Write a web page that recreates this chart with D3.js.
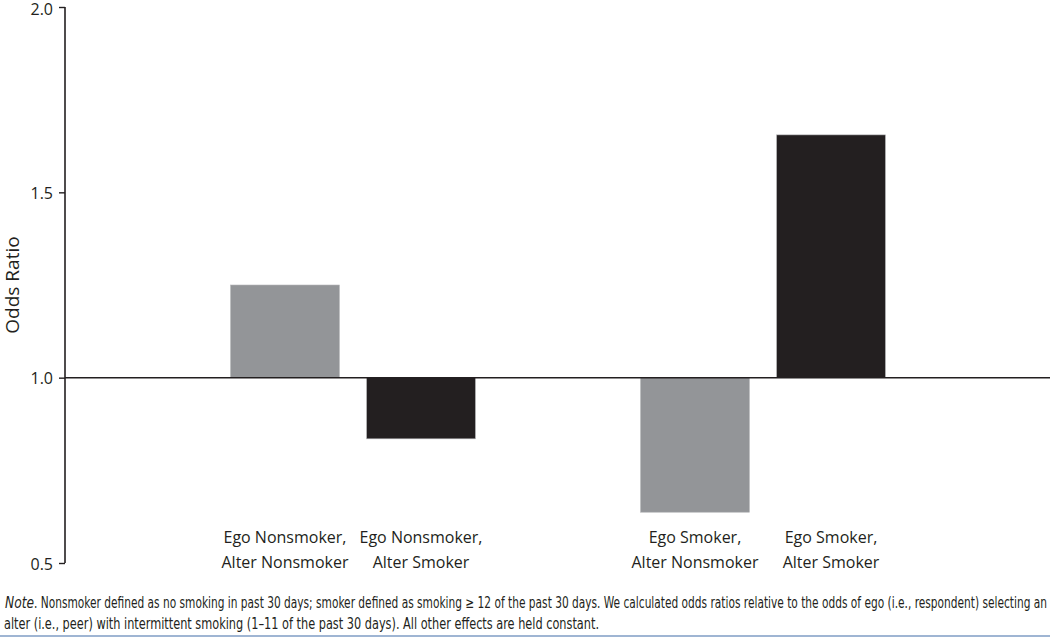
<!DOCTYPE html>
<html>
<head>
<meta charset="utf-8">
<script src="https://cdn.jsdelivr.net/npm/d3@7"></script>
<style>
  body { margin: 0; background: #fff; }
  svg { display: block; }
  .tick text { font-family: "Open Sans", sans-serif; font-size: 16px; fill: #231f20; }
</style>
</head>
<body>
<div id="chart"></div>
<script>
// data
let groups = ["Ego Nonsmoker", "Ego Smoker"];
let alters = ["Alter Nonsmoker", "Alter Smoker"];
let oddsRatios = [
  [1.25, 0.835],   // ego nonsmoker
  [0.637, 1.655]   // ego smoker
];
let barColors = ["#939598", "#231f20"];
let yTicks = [0.5, 1.0, 1.5, 2.0];
let noteLead = "Note";
let noteLines = [
  ". Nonsmoker defined as no smoking in past 30 days; smoker defined as smoking \u2265 12 of the past 30 days. We calculated odds ratios relative to the odds of ego (i.e., respondent) selecting an",
  "alter (i.e., peer) with intermittent smoking (1\u201311 of the past 30 days). All other effects are held constant."
];

let svgWidth = 1050;
let svgHeight = 640;

let svg = d3.select("#chart")
  .append("svg")
  .attr("width", svgWidth)
  .attr("height", svgHeight);

let axisX = 65;

// scales
let y = d3.scaleLinear()
  .domain([0.5, 2.0])
  .range([563, 7]);

let x0 = d3.scaleBand()
  .domain(groups)
  .range([148, 968])
  .paddingInner(0);

let x1 = d3.scaleBand()
  .domain(alters)
  .range([0, x0.bandwidth()])
  .paddingInner(0.2)
  .paddingOuter(0.607);

// flatten rows
let bars = [];
groups.forEach((g, i) => {
  alters.forEach((a, j) => {
    bars.push({ group: g, alter: a, value: oddsRatios[i][j], color: barColors[j] });
  });
});

// bars from the 1.0 line
svg.append("g")
  .selectAll("rect")
  .data(bars)
  .enter()
  .append("rect")
  .attr("x", d => x0(d.group) + x1(d.alter))
  .attr("width", x1.bandwidth())
  .attr("y", d => y(Math.max(d.value, 1)))
  .attr("height", d => Math.abs(y(d.value) - y(1)))
  .attr("fill", d => d.color)
  .attr("stroke", "#b5b6b8")
  .attr("stroke-width", 0.6);

// reference line at 1.0
svg.append("line")
  .attr("x1", axisX)
  .attr("x2", svgWidth)
  .attr("y1", y(1))
  .attr("y2", y(1))
  .attr("stroke", "#231f20")
  .attr("stroke-width", 1.5);

// y axis
let yAxis = svg.append("g")
  .attr("transform", `translate(${axisX},0)`)
  .call(d3.axisLeft(y).tickValues(yTicks).tickFormat(d3.format(".1f")).tickSize(6).tickPadding(6));
yAxis.select(".domain").attr("stroke", "#231f20").attr("stroke-width", 1.6)
  .attr("d", `M0,${y(2)}V${y(0.5)}`);
yAxis.selectAll(".tick line").attr("stroke", "#231f20").attr("stroke-width", 1.4);
yAxis.selectAll(".tick text").attr("dy", d => d === 2 ? "0.45em" : "0.38em");

// y title
svg.append("text")
  .attr("transform", `translate(19, 285) rotate(-90)`)
  .attr("text-anchor", "middle")
  .style("font-family", "'Open Sans', sans-serif")
  .style("font-size", "19px")
  .style("fill", "#231f20")
  .text("Odds Ratio");

// category labels
let labelGroup = svg.append("g")
  .style("font-family", "'Open Sans', sans-serif")
  .style("font-size", "16px")
  .style("fill", "#231f20")
  .attr("text-anchor", "middle");

bars.forEach(d => {
  let cx = x0(d.group) + x1(d.alter) + x1.bandwidth() / 2;
  let t = labelGroup.append("text").attr("x", cx);
  t.append("tspan").attr("x", cx).attr("y", 543).text(d.group + ",");
  t.append("tspan").attr("x", cx).attr("y", 568).text(d.alter);
});

// note
let note = svg.append("g")
  .style("font-family", "'Liberation Sans Narrow', 'DejaVu Sans Condensed', sans-serif")
  .style("font-size", "15px")
  .style("fill", "#231f20");

note.append("text")
  .attr("x", 5)
  .attr("y", 608)
  .attr("textLength", 29)
  .attr("lengthAdjust", "spacingAndGlyphs")
  .style("font-style", "italic")
  .text(noteLead);

note.append("text")
  .attr("x", 34)
  .attr("y", 608)
  .attr("textLength", 1013)
  .attr("lengthAdjust", "spacingAndGlyphs")
  .text(noteLines[0]);

note.append("text")
  .attr("x", 4)
  .attr("y", 629)
  .attr("textLength", 595)
  .attr("lengthAdjust", "spacingAndGlyphs")
  .text(noteLines[1]);

// bottom rule
svg.append("line")
  .attr("x1", 0)
  .attr("x2", svgWidth)
  .attr("y1", 636)
  .attr("y2", 636)
  .attr("stroke", "#7f9cc4")
  .attr("stroke-width", 1.5);
</script>
</body>
</html>
